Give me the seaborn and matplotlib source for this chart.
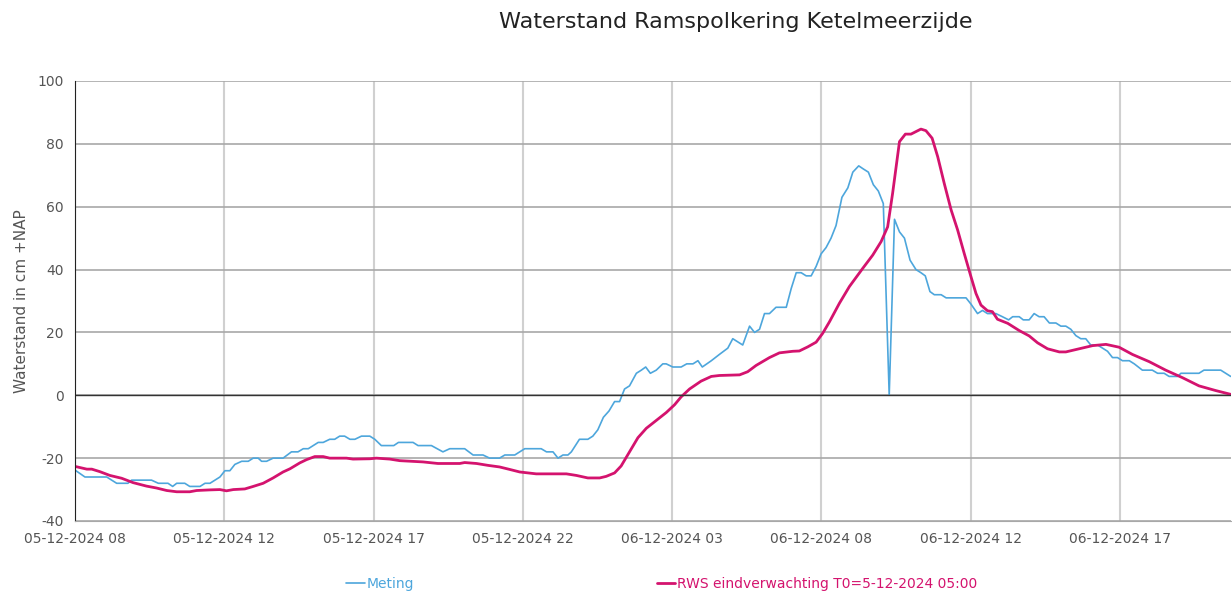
import pandas as pd
import seaborn as sns
import matplotlib.pyplot as plt
import matplotlib.dates as mdates

# hours after 05-12-2024 08:00
meting_uur = [0.03, 0.32, 1.02, 1.34, 1.70, 1.82, 2.46, 2.68, 2.99, 3.14, 3.27, 3.53, 3.69, 4.02, 4.18,
              4.34, 4.66, 4.82, 4.98, 5.14, 5.36, 5.57, 5.73, 5.89, 6.00, 6.16, 6.37, 6.69, 6.96, 7.17,
              7.34, 7.50, 7.82, 7.98, 8.19, 8.35, 8.51, 8.67, 8.84, 9.00, 9.21, 9.48, 9.64, 9.85, 10.25,
              10.40, 10.87, 11.03, 11.46, 11.83, 12.05, 12.53, 12.80, 13.12, 13.33, 13.65, 13.82, 14.14,
              14.46, 14.99, 15.16, 15.37, 15.53, 15.69, 15.85, 15.96, 16.22, 16.49, 16.65, 16.81, 16.99,
              17.17, 17.35, 17.51, 17.67, 17.83, 18.05, 18.21, 18.35, 18.50, 18.69, 18.90, 19.01, 19.22,
              19.49, 19.67, 19.87, 20.03, 20.17, 20.46, 20.72, 20.99, 21.15, 21.47, 21.69, 21.85, 22.01,
              22.17, 22.33, 22.54, 22.87, 23.03, 23.19, 23.35, 23.51, 23.67, 23.83, 23.99, 24.15, 24.31,
              24.47, 24.66, 24.85, 25.01, 25.20, 25.35, 25.51, 25.67, 25.83, 25.99, 26.18, 26.35, 26.51,
              26.67, 26.85, 27.04, 27.20, 27.34, 27.49, 27.63, 27.85, 28.01, 28.65, 28.81, 29.02, 29.18,
              29.34, 29.61, 29.82, 30.02, 30.15, 30.36, 30.49, 30.68, 30.84, 31.00, 31.16, 31.33, 31.54,
              31.70, 31.86, 32.02, 32.18, 32.34, 32.50, 32.66, 32.88, 33.04, 33.20, 33.36, 33.52, 33.68,
              33.90, 34.06, 34.32, 34.64, 34.81, 35.02, 35.18, 35.45, 35.56, 36.14, 36.30, 36.84, 37.16]
meting_cm = [-24, -26, -26, -28, -28, -27, -27, -28, -28, -29, -28, -28, -29, -29, -28,
             -28, -26, -24, -24, -22, -21, -21, -20, -20, -21, -21, -20, -20, -18, -18,
             -17, -17, -15, -15, -14, -14, -13, -13, -14, -14, -13, -13, -14, -16, -16,
             -15, -15, -16, -16, -18, -17, -17, -19, -19, -20, -20, -19, -19,
             -17, -17, -18, -18, -20, -19, -19, -18, -14, -14, -13, -11, -7,
             -5, -2, -2, 2, 3, 7, 8, 9, 7, 8, 10, 10, 9,
             9, 10, 10, 11, 9, 11, 13, 15, 18, 16, 22, 20, 21,
             26, 26, 28, 28, 34, 39, 39, 38, 38, 41, 45, 47, 50,
             54, 63, 66, 71, 73, 72, 71, 67, 65, 61, 0, 56, 52,
             50, 43, 40, 39, 38, 33, 32, 32, 31, 31, 29, 26, 27,
             26, 26, 25, 24, 25, 25, 24, 24, 26, 25, 25, 23, 23,
             22, 22, 21, 19, 18, 18, 16, 16, 15, 14, 12, 12, 11,
             11, 10, 8, 8, 7, 7, 6, 6, 7, 7, 8, 8, 6]

rws_uur = [0.03, 0.38, 0.54, 0.80, 1.12, 1.50, 1.87, 2.30, 2.62, 2.95, 3.27, 3.69, 3.91, 4.34, 4.66,
           4.87, 5.09, 5.46, 5.73, 6.05, 6.37, 6.69, 6.91, 7.23, 7.44, 7.71, 7.98, 8.19, 8.73, 8.94,
           9.48, 9.69, 10.12, 10.44, 11.19, 11.67, 12.37, 12.53, 12.91, 13.28, 13.65, 13.98, 14.30,
           14.83, 15.80, 16.12, 16.49, 16.87, 17.08, 17.35, 17.56, 17.83, 18.10, 18.37, 18.69, 19.01,
           19.28, 19.49, 19.76, 20.13, 20.46, 20.72, 21.37, 21.63, 21.90, 22.33, 22.65, 23.08, 23.29,
           23.56, 23.83, 24.04, 24.26, 24.58, 24.90, 25.33, 25.65, 25.92, 26.13, 26.29, 26.51, 26.70,
           26.88, 27.04, 27.20, 27.36, 27.56, 27.74, 27.95, 28.17, 28.38, 28.59, 28.81, 28.97, 29.13,
           29.34, 29.50, 29.66, 29.99, 30.36, 30.68, 30.95, 31.27, 31.65, 31.86, 32.29, 32.72, 33.15,
           33.57, 34.00, 34.54, 35.07, 35.61, 36.14, 36.68, 37.16]
rws_cm = [-22.7, -23.5, -23.5, -24.3, -25.5, -26.4, -27.8, -28.9, -29.5, -30.3, -30.7, -30.7, -30.3, -30.1, -30.0,
          -30.4, -30.0, -29.8, -29.0, -28.0, -26.3, -24.4, -23.4, -21.5, -20.5, -19.5, -19.5, -20.0, -20.0, -20.3,
          -20.2, -20.0, -20.3, -20.8, -21.2, -21.7, -21.7, -21.4, -21.7, -22.3, -22.8, -23.6, -24.4,
          -25.0, -25.0, -25.5, -26.3, -26.3, -25.8, -24.7, -22.5, -18.0, -13.5, -10.5, -8.0, -5.5,
          -3.0, -0.5, 2.0, 4.5, 6.0, 6.3, 6.5, 7.5, 9.5, 12.0, 13.5, 14.0, 14.1,
          15.4, 16.9, 19.7, 23.4, 29.3, 34.6, 40.4, 44.6, 48.9, 53.6, 64.3, 80.7, 83.1,
          83.1, 83.9, 84.7, 84.2, 81.8, 75.9, 67.4, 59.0, 52.6, 45.2, 37.7, 32.4, 28.7,
          26.9, 26.6, 24.2, 22.9, 20.6, 18.9, 16.7, 14.8, 13.8, 13.8, 14.8, 15.8, 16.2,
          15.3, 13.0, 10.7, 8.0, 5.6, 3.0, 1.5, 0.3]

t0 = pd.Timestamp('2024-12-05 08:00')
meting = pd.DataFrame({'tijd': t0 + pd.to_timedelta(meting_uur, unit='h'), 'cm': meting_cm})
rws = pd.DataFrame({'tijd': t0 + pd.to_timedelta(rws_uur, unit='h'), 'cm': rws_cm})

sns.set_style('white')
plt.rcParams['font.family'] = ['DejaVu Sans']
plt.rcParams['axes.unicode_minus'] = False

fig = plt.figure(figsize=(12.32, 5.91), dpi=100)
ax = fig.add_axes([75 / 1232, 1 - 521 / 591, 1 - 76 / 1232, 440 / 591])

sns.lineplot(data=meting, x='tijd', y='cm', color='#4da6dc', linewidth=1.2, label='Meting', ax=ax)
sns.lineplot(data=rws, x='tijd', y='cm', color='#d4136e', linewidth=2, label='RWS eindverwachting T0=5-12-2024 05:00', ax=ax)

ax.set_ylim(-40, 100)
ax.set_yticks(range(-40, 101, 20))
ax.set_xlim(t0, t0 + pd.Timedelta(hours=37.17))
ax.set_xticks([t0 + pd.Timedelta(hours=4.8 * k) for k in range(8)])
ax.xaxis.set_major_formatter(mdates.DateFormatter('%d-%m-%Y %H'))

ax.grid(axis='x', color='#d0d0d0', linewidth=1.5)
ax.grid(axis='y', color='#a8a8a8', linewidth=1.2)
ax.axhline(0, color='#333333', linewidth=1.0)
ax.tick_params(length=0, labelsize=10, labelcolor='#555555', pad=8)
for side in ['top', 'right']:
    ax.spines[side].set_visible(False)
ax.spines['left'].set_color('#222222')
ax.spines['bottom'].set_color('#a8a8a8')
ax.set_xlabel('')
ax.set_ylabel('Waterstand in cm +NAP', fontsize=11, color='#555555', labelpad=6)

fig.suptitle('Waterstand Ramspolkering Ketelmeerzijde', x=736 / 1232, y=0.98, fontsize=16, color='#222222')

ax.legend_.remove()
handles, labels = ax.get_legend_handles_labels()
fig.legend(handles, labels, loc='center', bbox_to_anchor=(662 / 1232, 0.012), ncol=2, frameon=False,
           fontsize=10, labelcolor='linecolor', handlelength=1.3, handletextpad=0.15, columnspacing=17.5)

plt.savefig('out.png', dpi=100)
